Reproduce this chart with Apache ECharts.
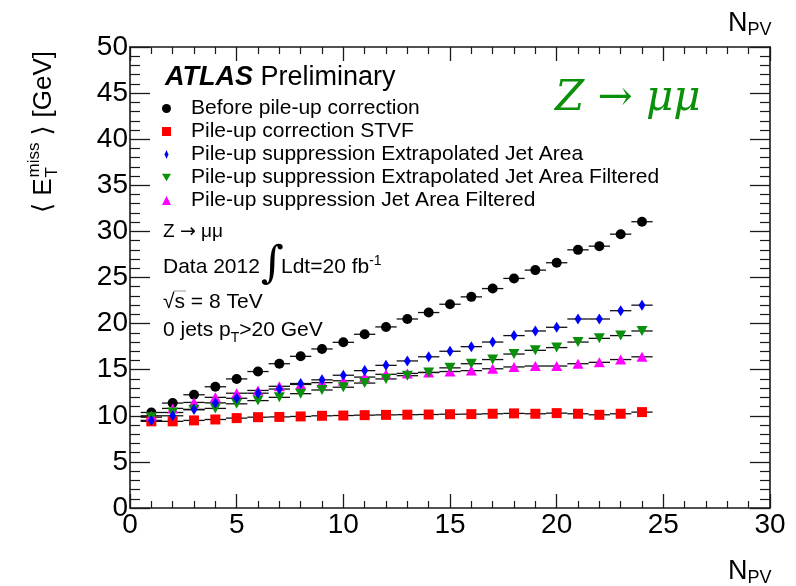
<!DOCTYPE html>
<html><head><meta charset="utf-8">
<script src="https://cdn.jsdelivr.net/npm/echarts@6/dist/echarts.min.js"></script>
<style>html,body{margin:0;padding:0;background:#fff}#c{width:796px;height:586px}</style>
</head><body><div id="c"></div>
<script>
// ---- data ----
const npv = [1,2,3,4,5,6,7,8,9,10,11,12,13,14,15,16,17,18,19,20,21,22,23,24];
const beforePU = [10.36,11.38,12.28,13.15,14.0,14.8,15.65,16.45,17.25,17.97,18.84,19.64,20.5,21.2,22.1,22.9,23.8,24.9,25.8,26.6,28.0,28.4,29.7,31.05];
const stvf = [9.4,9.4,9.5,9.6,9.75,9.85,9.88,9.93,10.0,10.03,10.07,10.1,10.12,10.14,10.17,10.18,10.22,10.26,10.22,10.29,10.22,10.11,10.22,10.4];
const extrapJA = [9.5,10.0,10.7,11.4,11.9,12.45,12.9,13.5,13.9,14.4,14.9,15.47,15.95,16.4,17.0,17.5,18.0,18.7,19.2,19.6,20.5,20.5,21.4,22.0];
const extrapJAFilt = [9.85,10.36,10.65,10.8,11.3,11.65,12.0,12.4,12.8,13.1,13.55,14.0,14.35,14.7,15.2,15.65,16.1,16.7,17.1,17.4,18.0,18.4,18.7,19.2];
const jaFilt = [10.0,10.8,11.45,12.0,12.45,12.75,13.2,13.4,13.6,13.8,14.2,14.5,14.6,14.7,14.8,14.9,15.1,15.3,15.4,15.4,15.65,15.8,16.1,16.4];
const seriesNames = ['Before pile-up correction','Pile-up correction STVF','Pile-up suppression Extrapolated Jet Area','Pile-up suppression Extrapolated Jet Area Filtered','Pile-up suppression Jet Area Filtered'];
const binHalfWidth = 0.5;
const xRange = [0, 30], xStep = 5;
const yRange = [0, 50], yStep = 5;

// ---- helpers ----
const FONT = '"Liberation Sans", Arial, Helvetica, sans-serif';
const DJ = '"DejaVu Sans", sans-serif';
const ctx = document.createElement('canvas').getContext('2d');
function tw(t, size, o) { o = o || {}; ctx.font = (o.style||'normal')+' '+(o.weight||'normal')+' '+size+'px '+(o.family||FONT); return ctx.measureText(t).width; }
function txt(t, x, baseline, size, o) {
  o = o || {};
  return {type:'text', x:x, y: baseline - 0.31*size, silent:true, z:100,
    style:{text:t, fontSize:size, fontFamily:o.family||FONT, fontWeight:o.weight||'normal', fontStyle:o.style||'normal', fill:o.color||'#000', align:'left', verticalAlign:'middle'}};
}
function seq(parts, x, baseline) {
  const out = []; let cx = x;
  parts.forEach(function(p){ const o = p.o||{}; out.push(txt(p.t, cx, baseline + (p.dy||0), p.size, o)); cx += tw(p.t, p.size, o) + (p.gap||0); });
  return out;
}
function pairs(vals) { return npv.map(function(n,i){ return [n, vals[i]]; }); }

function errSeries(vals) {
  return {type:'custom', data: pairs(vals), z: 2, silent: true, xAxisIndex:0, yAxisIndex:0,
    renderItem: function(params, api){
      const x = api.value(0), y = api.value(1);
      const a = api.coord([x - binHalfWidth, y]), b = api.coord([x + binHalfWidth, y]);
      return {type:'line', shape:{x1:a[0], y1:a[1], x2:b[0], y2:b[1]}, style:{stroke:'#111', lineWidth:1.3}};
    }};
}
const downTri = 'path://M0,0 L12,0 L6,10 Z';
const narrowDiamond = 'path://M2,0 L4,4.5 L2,9 L0,4.5 Z';
function sc(name, vals, symbol, size, color, z) {
  return {type:'scatter', name:name, data: pairs(vals), symbol:symbol, symbolSize:size, z:z,
    itemStyle:{color:color, opacity:1}, emphasis:{disabled:true}};
}

const green = '#0a900a';
const colors = ['#000000', '#ff0000', '#0000ff', green, '#ff00ff'];

function axisCommon(pos, showLabel, isX) {
  return {
    type:'value', position:pos, min: isX?xRange[0]:yRange[0], max: isX?xRange[1]:yRange[1], interval: isX?xStep:yStep,
    axisLine:{show:true, onZero:false, lineStyle:{color:'#1a1a1a', width:1.6}},
    axisTick:{show:true, inside:true, length: isX?14:20, lineStyle:{color:'#1a1a1a', width:1.3}},
    minorTick:{show:true, splitNumber:5, length: isX?7:10, lineStyle:{color:'#1a1a1a', width:1.2}},
    splitLine:{show:false}, minorSplitLine:{show:false},
    axisLabel:{show:showLabel, fontSize:28, color:'#000', fontFamily:FONT, margin: isX?3:2}
  };
}

const chart = echarts.init(document.getElementById('c'), null, {renderer:'canvas'});

// graphic texts
const g = [];
g.push.apply(g, seq([{t:'ATLAS', size:27, o:{weight:'bold', style:'italic'}}, {t:' Preliminary', size:27}], 165, 86));
g.push(txt('Z \u2192 \u03bc\u03bc', 555, 112, 42, {family:'"DejaVu Serif", serif', style:'italic', color:green}));
g.push.apply(g, seq([{t:'Z ', size:19}, {t:'\u2192', size:19, o:{family:DJ}}, {t:' \u03bc\u03bc', size:19}], 163, 238));
g.push.apply(g, seq([{t:'Data 2012', size:21}], 163, 274));
g.push(txt('\u222b', 261, 279, 44, {family:'"DejaVu Serif", serif'}));
g.push.apply(g, seq([{t:'Ldt=20 fb', size:21}, {t:'-1', size:14, dy:-9}], 281, 274));
g.push.apply(g, seq([{t:'\u221as = 8 TeV', size:21}], 163, 309));
g.push({type:'line', silent:true, z:100, shape:{x1:174, y1:291, x2:186, y2:291}, style:{stroke:'#999', lineWidth:1}});
g.push.apply(g, seq([{t:'0 jets p', size:21}, {t:'T', size:14, dy:5}, {t:'>20 GeV', size:21}], 163, 337));
g.push.apply(g, seq([{t:'N', size:27}, {t:'PV', size:18, dy:4}], 728, 32));
g.push.apply(g, seq([{t:'N', size:27}, {t:'PV', size:18, dy:4}], 728, 580));

// rotated y-axis title
(function(){
  const kids = [];
  let cx = 0;
  const br = {family:DJ};
  kids.push(txt('\u27e8', cx, 0, 26, br)); cx += tw('\u27e8', 26, br) + 7;
  kids.push(txt('E', cx, 0, 26)); cx += tw('E', 26) + 1;
  kids.push(txt('miss', cx, -12, 17)); kids.push(txt('T', cx, 6, 17));
  cx += Math.max(tw('miss', 17), tw('T', 17)) + 7;
  kids.push(txt('\u27e9', cx, 0, 26, br)); cx += tw('\u27e9', 26, br) + 8;
  kids.push(txt('[GeV]', cx, 0, 26));
  g.push({type:'group', x:52, y:213, rotation:Math.PI/2, children:kids});
})();

const symbols = ['circle', 'rect', 'diamond', downTri, 'triangle'];
const sizes = [10, 10, [7,11], [11,10], [11,10]];
const dataSets = [beforePU, stvf, extrapJA, extrapJAFilt, jaFilt];
const legendIcons = ['circle', 'rect', narrowDiamond, downTri, 'triangle'];
const zOrder = [3, 4, 7, 6, 5];

const series = [];
dataSets.forEach(function(d){ series.push(errSeries(d)); });
dataSets.forEach(function(d, i){ series.push(sc(seriesNames[i], d, symbols[i], sizes[i], colors[i], zOrder[i])); });

chart.setOption({
  animation:false,
  backgroundColor:'#ffffff',
  grid:{left:130, right:26, top:47, bottom:78, containLabel:false},
  xAxis:[axisCommon('bottom', true, true), axisCommon('top', false, true)],
  yAxis:[axisCommon('left', true, false), axisCommon('right', false, false)],
  legend:{
    orient:'vertical', left:157, top:93, itemWidth:9, itemHeight:9, itemGap:2, selectedMode:false,
    data: seriesNames.map(function(n,i){ return {name:n, icon:legendIcons[i], itemStyle:{color:colors[i]}}; }),
    textStyle:{fontSize:21, color:'#000', fontFamily:FONT, lineHeight:21, padding:[0,0,0,15]}
  },
  series: series,
  graphic: g
});
</script>
</body></html>
